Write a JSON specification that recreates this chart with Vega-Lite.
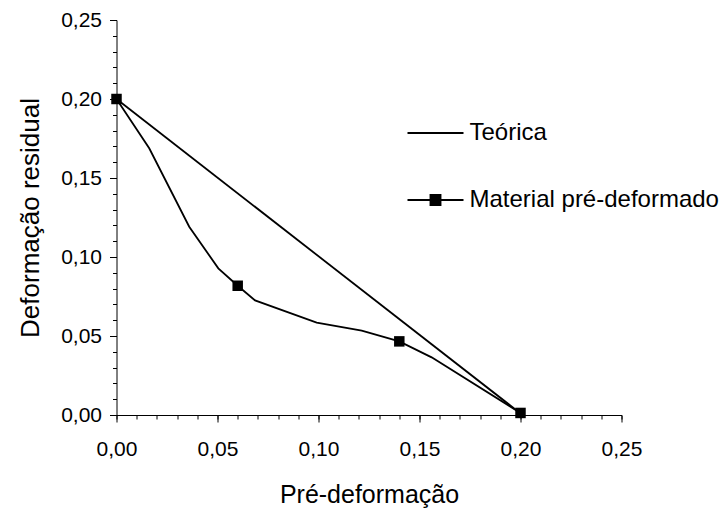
{
  "$schema": "https://vega.github.io/schema/vega-lite/v6.json",
  "width": 505,
  "height": 395,
  "autosize": {"type": "none"},
  "padding": {"left": 116.5, "top": 20, "right": 102.5, "bottom": 95},
  "background": "white",
  "config": {
    "view": {"stroke": null},
    "font": "Liberation Sans",
    "axis": {
      "grid": false,
      "domainColor": "black",
      "tickColor": "black",
      "labelColor": "black",
      "titleColor": "black",
      "labelFont": "Liberation Sans",
      "titleFont": "Liberation Sans",
      "labelFontSize": 21,
      "titleFontSize": 25,
      "titleFontWeight": "normal",
      "domainWidth": 1,
      "tickWidth": 1
    },
    "legend": {"labelFont": "Liberation Sans"}
  },
  "datasets": {
    "curve": [
      {"x": 0.0, "y": 0.200, "serie": "Teórica"},
      {"x": 0.20, "y": 0.001, "serie": "Teórica"},
      {"x": 0.0, "y": 0.200, "serie": "Material pré-deformado"},
      {"x": 0.0162, "y": 0.1688, "serie": "Material pré-deformado"},
      {"x": 0.0360, "y": 0.1192, "serie": "Material pré-deformado"},
      {"x": 0.0504, "y": 0.0928, "serie": "Material pré-deformado"},
      {"x": 0.0600, "y": 0.0818, "serie": "Material pré-deformado"},
      {"x": 0.0686, "y": 0.0725, "serie": "Material pré-deformado"},
      {"x": 0.0991, "y": 0.0585, "serie": "Material pré-deformado"},
      {"x": 0.1214, "y": 0.0534, "serie": "Material pré-deformado"},
      {"x": 0.1400, "y": 0.0466, "serie": "Material pré-deformado"},
      {"x": 0.1560, "y": 0.0365, "serie": "Material pré-deformado"},
      {"x": 0.2000, "y": 0.0013, "serie": "Material pré-deformado"}
    ],
    "pontos": [
      {"x": 0.0, "y": 0.200},
      {"x": 0.06, "y": 0.0818},
      {"x": 0.14, "y": 0.0466},
      {"x": 0.20, "y": 0.0013}
    ]
  },
  "layer": [
    {
      "data": {"name": "curve"},
      "mark": {"type": "line", "strokeWidth": 1.8, "color": "black"},
      "encoding": {
        "x": {
          "field": "x", "type": "quantitative",
          "scale": {"domain": [0, 0.25], "nice": false, "zero": true},
          "axis": {
            "orient": "bottom",
            "values": [0, 0.05, 0.1, 0.15, 0.2, 0.25],
            "labelExpr": "replace(format(datum.value, '.2f'), '.', ',')",
            "tickSize": 7,
            "labelPadding": 16,
            "title": "Pré-deformação",
            "titlePadding": 23,
            "labelFlush": false
          }
        },
        "y": {
          "field": "y", "type": "quantitative",
          "scale": {"domain": [0, 0.25], "nice": false, "zero": true},
          "axis": {
            "orient": "left",
            "values": [0, 0.05, 0.1, 0.15, 0.2, 0.25],
            "labelExpr": "replace(format(datum.value, '.2f'), '.', ',')",
            "tickSize": 7,
            "labelPadding": 8,
            "title": "Deformação residual",
            "titleFontSize": 26,
            "titlePadding": 17,
            "labelFlush": false
          }
        },
        "color": {
          "field": "serie", "type": "nominal",
          "scale": {"domain": ["Teórica", "Material pré-deformado"], "range": ["black", "black"]},
          "legend": {
            "title": null,
            "orient": "none",
            "legendX": 290,
            "legendY": 84,
            "symbolSize": 3136,
            "symbolStrokeWidth": 1.8,
            "symbolType": "stroke",
            "labelFontSize": 24,
            "labelColor": "black",
            "labelOffset": 5,
            "labelLimit": 400,
            "rowPadding": 26,
            "encode": {
              "symbols": {
                "update": {
                  "shape": {"signal": "datum.value === 'Teórica' ? 'M-1,0H1' : 'M-1,0H1M-0.18,-0.18H0.18V0.18H-0.18Z'"},
                  "fill": {"value": "black"},
                  "stroke": {"value": "black"}
                }
              }
            }
          }
        }
      }
    },
    {
      "data": {"name": "pontos"},
      "mark": {"type": "point", "shape": "square", "filled": true, "color": "black", "size": 110, "opacity": 1},
      "encoding": {
        "x": {
          "field": "x", "type": "quantitative",
          "axis": {
            "orient": "bottom",
            "values": [0, 0.01, 0.02, 0.03, 0.04, 0.05, 0.06, 0.07, 0.08, 0.09, 0.1, 0.11, 0.12, 0.13, 0.14, 0.15, 0.16, 0.17, 0.18, 0.19, 0.2, 0.21, 0.22, 0.23, 0.24, 0.25],
            "labels": false,
            "domain": false,
            "tickSize": 4,
            "title": null
          }
        },
        "y": {
          "field": "y", "type": "quantitative",
          "axis": {
            "orient": "left",
            "values": [0, 0.01, 0.02, 0.03, 0.04, 0.05, 0.06, 0.07, 0.08, 0.09, 0.1, 0.11, 0.12, 0.13, 0.14, 0.15, 0.16, 0.17, 0.18, 0.19, 0.2, 0.21, 0.22, 0.23, 0.24, 0.25],
            "labels": false,
            "domain": false,
            "tickSize": 4,
            "title": null
          }
        }
      }
    }
  ],
  "resolve": {"axis": {"x": "independent", "y": "independent"}, "scale": {"x": "shared", "y": "shared"}}
}
